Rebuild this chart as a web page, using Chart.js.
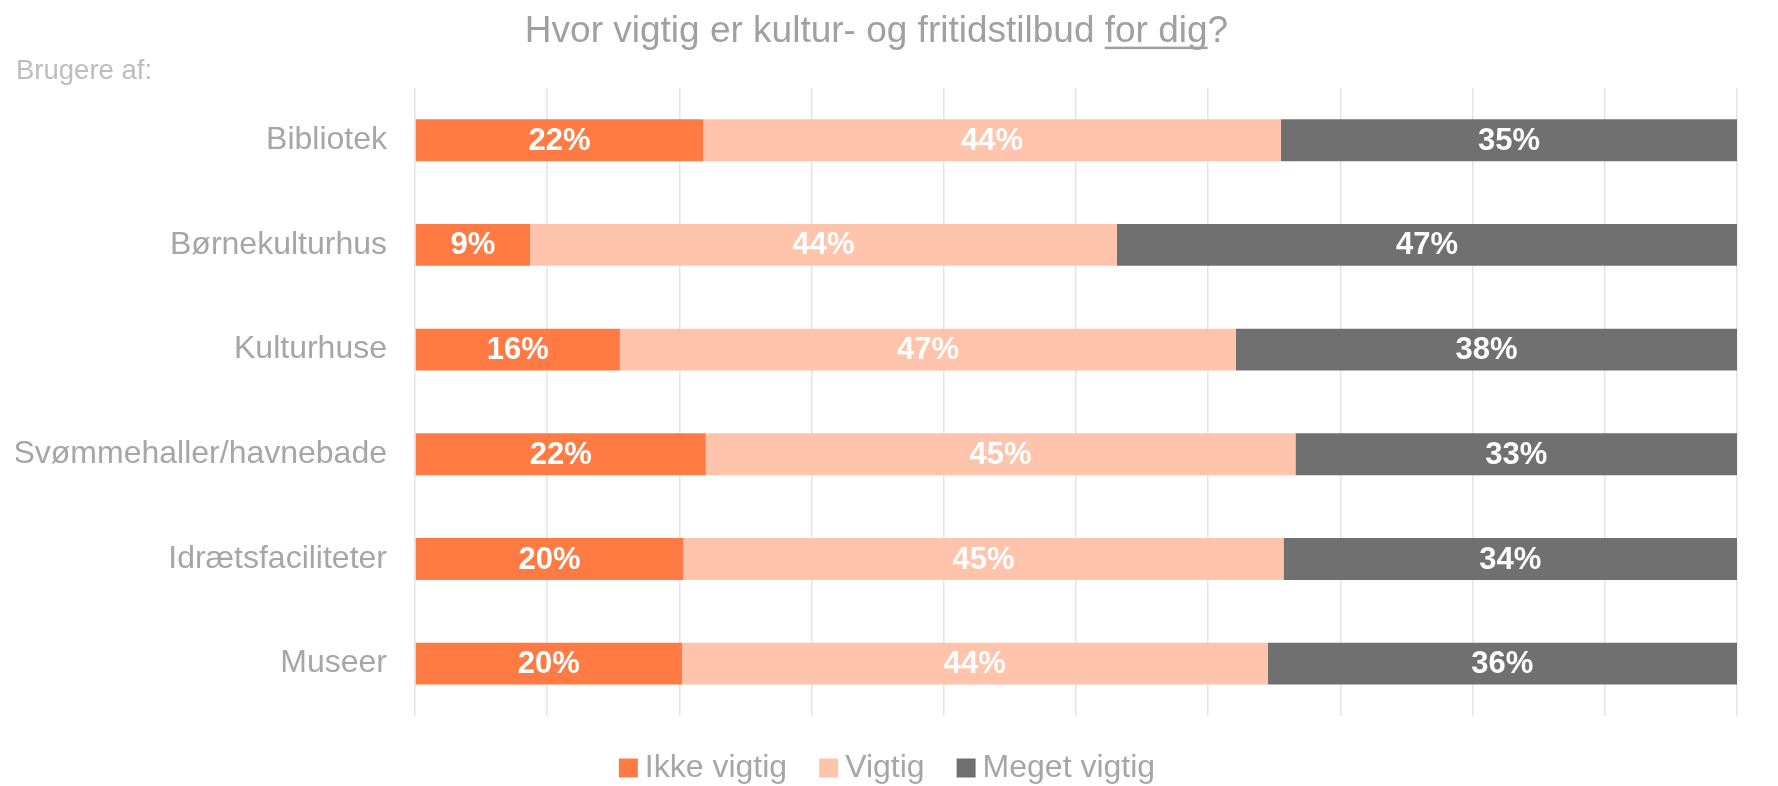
<!DOCTYPE html>
<html>
<head>
<meta charset="utf-8">
<title>Hvor vigtig er kultur- og fritidstilbud for dig?</title>
<script src="https://cdn.jsdelivr.net/npm/chart.js@4.4.1/dist/chart.umd.min.js"></script>
<style>
  html, body { margin: 0; padding: 0; background: #ffffff; }
  #wrap { width: 1778px; height: 786px; }
</style>
</head>
<body>
<div id="wrap"><canvas id="survey-chart"></canvas></div>
<script>
// Data (andel i %)
const categories = ['Bibliotek', 'Børnekulturhus', 'Kulturhuse', 'Svømmehaller/havnebade', 'Idrætsfaciliteter', 'Museer'];
const ikkeVigtig = [21.8, 8.7, 15.5, 22.0, 20.3, 20.2];
const vigtig = [43.7, 44.4, 46.6, 44.6, 45.4, 44.3];
const megetVigtig = [34.5, 46.9, 37.9, 33.4, 34.3, 35.5];
const seriesNames = ['Ikke vigtig', 'Vigtig', 'Meget vigtig'];
const xTicks = [0, 10, 20, 30, 40, 50, 60, 70, 80, 90, 100];

const titleText = 'Hvor vigtig er kultur- og fritidstilbud for dig?';
const underlined = 'for dig';
const titleSize = 37;
const titlePadTop = 10;

Chart.defaults.font.family = "'Liberation Sans', Arial, sans-serif";

// Procent-tal midt i hver bar
const barLabels = {
    id: 'barLabels',
    afterDatasetsDraw(chart) {
        const ctx = chart.ctx;
        ctx.save();
        ctx.font = "bold 31px 'Liberation Sans', Arial, sans-serif";
        ctx.fillStyle = '#ffffff';
        ctx.textAlign = 'center';
        ctx.textBaseline = 'middle';
        chart.data.datasets.forEach((ds, i) => {
            const meta = chart.getDatasetMeta(i);
            meta.data.forEach((bar, j) => {
                const v = ds.data[j];
                ctx.fillText(Math.round(v) + '%', (bar.x + bar.base) / 2, bar.y + 1);
            });
        });
        ctx.restore();
    }
};

// Understregning af "for dig" i titlen
const titleUnderline = {
    id: 'titleUnderline',
    afterDraw(chart) {
        const tb = chart.titleBlock;
        if (!tb) return;
        const ctx = chart.ctx;
        ctx.save();
        ctx.font = titleSize + "px 'Liberation Sans', Arial, sans-serif";
        const full = ctx.measureText(titleText).width;
        const idx = titleText.indexOf(underlined);
        const pre = ctx.measureText(titleText.slice(0, idx)).width;
        const w = ctx.measureText(underlined).width;
        const cx = (tb.left + tb.right) / 2;
        const x0 = cx - full / 2 + pre;
        const midY = tb.top + titlePadTop + titleSize * 1.2 / 2;
        ctx.fillStyle = '#a0a0a0';
        ctx.fillRect(x0, midY + titleSize * 0.39, w, 2.5);
        ctx.restore();
    }
};

// Flyt forklaringen lidt, så den står som i originalen
const legendNudge = {
    id: 'legendNudge',
    afterLayout(chart) {
        const lg = chart.legend;
        if (!lg) return;
        lg.left += 15;
        lg.right += 15;
        lg.top -= 5;
        lg.bottom = chart.height;
        lg.height = lg.bottom - lg.top;
    }
};

const colors = ['#ff7b43', '#ffc4ab', '#707070'];
const values = [ikkeVigtig, vigtig, megetVigtig];

new Chart(document.getElementById('survey-chart'), {
    type: 'bar',
    data: {
        labels: categories,
        datasets: seriesNames.map((name, i) => ({
            label: name,
            data: values[i],
            backgroundColor: colors[i],
            borderWidth: 0,
            categoryPercentage: 1,
            barPercentage: 0.4
        }))
    },
    options: {
        indexAxis: 'y',
        responsive: true,
        maintainAspectRatio: false,
        animation: false,
        layout: {
            padding: { left: 16, right: 41, top: 0, bottom: 0 }
        },
        scales: {
            x: {
                stacked: true,
                min: 0,
                max: 100,
                afterBuildTicks(scale) {
                    scale.ticks = xTicks.map(v => ({ value: v }));
                },
                ticks: { display: false },
                border: { display: false },
                grid: { color: '#e4e4e4', lineWidth: 1.5, drawTicks: false }
            },
            y: {
                stacked: true,
                afterFit(scale) { scale.width = 399; },
                ticks: {
                    color: '#a6a6a6',
                    font: { size: 32 },
                    padding: 28
                },
                border: { display: false },
                grid: { display: false, drawTicks: false }
            }
        },
        plugins: {
            title: {
                display: true,
                text: titleText,
                color: '#a0a0a0',
                font: { size: titleSize, weight: 'normal' },
                padding: { top: titlePadTop, bottom: 0 }
            },
            subtitle: {
                display: true,
                text: 'Brugere af:',
                align: 'start',
                color: '#bdbdbd',
                font: { size: 27.5, lineHeight: 1 },
                padding: { top: 3, bottom: 3 }
            },
            legend: {
                position: 'bottom',
                maxHeight: 70,
                labels: {
                    color: '#a6a6a6',
                    font: { size: 32 },
                    usePointStyle: true,
                    pointStyle: 'rect',
                    boxWidth: 1,
                    boxHeight: 19,
                    padding: 41
                }
            },
            tooltip: { enabled: false }
        }
    },
    plugins: [barLabels, titleUnderline, legendNudge]
});
</script>
</body>
</html>
